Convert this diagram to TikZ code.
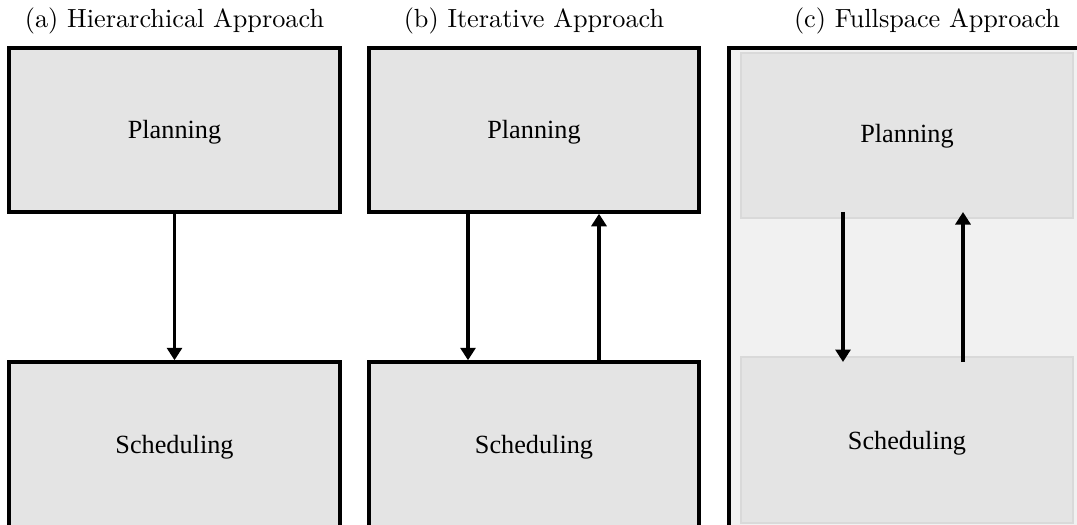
\documentclass[tikz,border=0pt]{standalone}
\usepackage{fontspec}
\newfontfamily\boxfont{Liberation Serif}
\usetikzlibrary{arrows.meta}
\definecolor{boxfill}{HTML}{E4E4E4}
\definecolor{spacefill}{HTML}{F1F1F1}
\definecolor{softedge}{HTML}{D9D9D9}
\tikzset{
  block/.style={draw=black, line width=1.4pt, fill=boxfill, inner sep=0pt,
    minimum width=#1*0.4pt},
  softblock/.style={draw=softedge, line width=0.9pt, fill=boxfill, inner sep=0pt,
    minimum width=#1*0.4pt},
  caption/.style={anchor=base, inner sep=0pt, font=\fontsize{10.5}{12}\selectfont},
  boxtext/.style={anchor=base, inner sep=0pt, font=\boxfont\fontsize{10.5}{12}\selectfont},
  flow/.style={line width=1.5pt, -{Triangle[width=6pt,length=5pt]}},
}
\begin{document}
\begin{tikzpicture}[x=0.4pt,y=-0.4pt]
  \useasboundingbox (0,0) rectangle (1077,525);
  \clip (0,0) rectangle (1077,525);

  % (a) hierarchical: planning feeds scheduling
  \node[caption] (ta) at (174.5,28) {(a) Hierarchical Approach};
  \node[block=331, minimum height=164*0.4pt] (pa) at (174.5,130) {};
  \node[block=331, minimum height=165*0.4pt] (sa) at (174.5,444.5) {};
  \node[boxtext] (lpa) at (174.5,139) {Planning};
  \node[boxtext] (lsa) at (174.5,453) {Scheduling};
  \draw[flow] (174.5,0 |- pa.south) -- (174.5,0 |- sa.north);

  % (b) iterative: planning and scheduling exchange in a loop
  \node[caption] (tb) at (534,28) {(b) Iterative Approach};
  \node[block=330, minimum height=164*0.4pt] (pb) at (534,130) {};
  \node[block=330, minimum height=165*0.4pt] (sb) at (534,444.5) {};
  \node[boxtext] (lpb) at (534,139) {Planning};
  \node[boxtext] (lsb) at (534,453) {Scheduling};
  \draw[flow] (468,0 |- pb.south) -- (468,0 |- sb.north);
  \draw[flow] (599,0 |- sb.north) -- (599,0 |- pb.south);

  % (c) fullspace: both levels inside one shared space
  \node[caption] (tc) at (927,28) {(c) Fullspace Approach};
  \node[draw=black, line width=1.4pt, fill=spacefill, inner sep=0pt,
        minimum width=370*0.4pt, minimum height=510*0.4pt] (space) at (914,303) {};
  \node[softblock=332, minimum height=165*0.4pt] (pc) at (907,135.5) {};
  \node[softblock=332, minimum height=166*0.4pt] (sc) at (907,440) {};
  \node[boxtext] (lpc) at (907,143) {Planning};
  \node[boxtext] (lsc) at (907,449) {Scheduling};
  \coordinate (cdown) at (843,212);
  \coordinate (cup) at (963,212);
  \draw[flow] (cdown) -- (843,362);
  \draw[flow] (963,362) -- (cup);
\end{tikzpicture}
\end{document}
